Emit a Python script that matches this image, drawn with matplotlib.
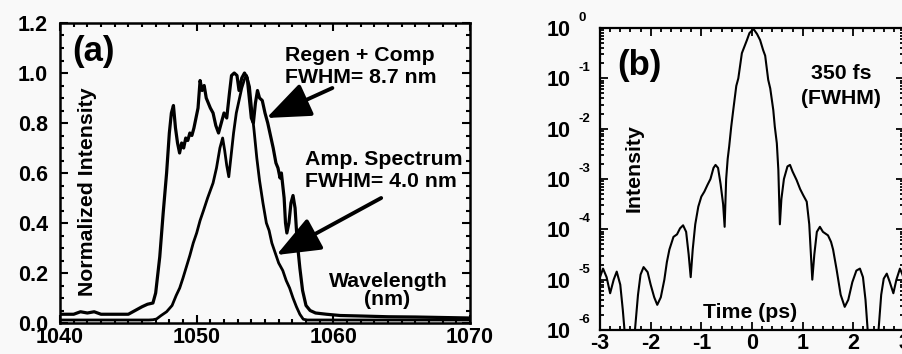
import numpy as np
import matplotlib
matplotlib.use("Agg")
import matplotlib.pyplot as plt
from matplotlib.ticker import MultipleLocator, FixedLocator, FixedFormatter, LogLocator, NullFormatter
import matplotlib.transforms as mtransforms

plt.rcParams['font.family'] = ['Liberation Sans', 'DejaVu Sans']
plt.rcParams['font.weight'] = 'bold'
plt.rcParams['axes.unicode_minus'] = False

# ---------------- data: panel (a) ----------------
regen_wl = [1040.0, 1041.0, 1041.5, 1042.0, 1042.5, 1043.0, 1044.0, 1045.0, 1045.5, 1046.0,
            1046.4, 1046.8, 1047.0, 1047.3, 1047.55, 1047.8, 1048.0, 1048.15, 1048.3, 1048.45,
            1048.6, 1048.75, 1048.9, 1049.05, 1049.2, 1049.35, 1049.5, 1049.65, 1049.8, 1049.95,
            1050.1, 1050.25, 1050.4, 1050.55, 1050.7, 1050.85, 1051.0, 1051.2, 1051.4, 1051.6,
            1051.8, 1052.0, 1052.2, 1052.4, 1052.55, 1052.75, 1052.95, 1053.1, 1053.3, 1053.5,
            1053.7, 1053.85, 1054.0, 1054.15, 1054.3, 1054.45, 1054.6, 1054.8, 1055.0, 1055.2,
            1055.4, 1055.6, 1055.8, 1055.95, 1056.1, 1056.2, 1056.3, 1056.4, 1056.5, 1056.6,
            1056.75, 1056.9, 1057.05, 1057.2, 1057.35, 1057.55, 1057.75, 1058.0, 1058.3, 1058.7,
            1059.5, 1060.5, 1062.0, 1064.0, 1066.0, 1068.0, 1070.0]
regen_int = [0.035, 0.035, 0.045, 0.040, 0.045, 0.035, 0.035, 0.035, 0.050, 0.065,
             0.075, 0.080, 0.120, 0.265, 0.440, 0.600, 0.760, 0.840, 0.870, 0.780,
             0.720, 0.680, 0.720, 0.700, 0.740, 0.730, 0.760, 0.750, 0.780, 0.820,
             0.860, 0.970, 0.930, 0.950, 0.900, 0.880, 0.860, 0.840, 0.790, 0.760,
             0.800, 0.840, 0.820, 0.920, 0.990, 1.000, 0.990, 0.930, 0.980, 1.000,
             0.980, 0.900, 0.820, 0.800, 0.880, 0.930, 0.900, 0.890, 0.840, 0.800,
             0.750, 0.700, 0.640, 0.620, 0.580, 0.600, 0.550, 0.500, 0.400, 0.360,
             0.400, 0.480, 0.510, 0.460, 0.330, 0.220, 0.130, 0.070, 0.050, 0.040,
             0.035, 0.030, 0.028, 0.025, 0.024, 0.022, 0.020]

amp_wl = [1040.0, 1044.0, 1046.5, 1046.8, 1047.06, 1047.4, 1047.8, 1048.2, 1048.5, 1048.76,
          1049.0, 1049.25, 1049.5, 1049.75, 1050.0, 1050.25, 1050.5, 1050.8, 1051.0, 1051.2,
          1051.45, 1051.7, 1051.9, 1052.05, 1052.2, 1052.35, 1052.5, 1052.7, 1052.9, 1053.1,
          1053.3, 1053.5, 1053.65, 1053.87, 1054.0, 1054.2, 1054.4, 1054.6, 1054.85, 1055.1,
          1055.3, 1055.5, 1055.75, 1056.0, 1056.3, 1056.55, 1056.8, 1057.05, 1057.3, 1057.55,
          1057.8, 1058.1, 1060.0, 1065.0, 1070.0]
amp_int = [0.012, 0.012, 0.012, 0.013, 0.016, 0.030, 0.045, 0.070, 0.110, 0.140,
           0.180, 0.225, 0.270, 0.320, 0.360, 0.410, 0.450, 0.500, 0.530, 0.560,
           0.620, 0.700, 0.740, 0.690, 0.630, 0.585, 0.660, 0.760, 0.840, 0.890,
           0.940, 0.975, 0.990, 0.945, 0.870, 0.770, 0.660, 0.570, 0.480, 0.400,
           0.370, 0.320, 0.280, 0.240, 0.210, 0.170, 0.140, 0.100, 0.065, 0.035,
           0.015, 0.012, 0.012, 0.012, 0.012]

# ---------------- data: panel (b) ----------------
time_ps = [-3.0, -2.94, -2.87, -2.8, -2.73, -2.67, -2.6, -2.55, -2.5, -2.45,
           -2.35, -2.31, -2.25, -2.2, -2.14, -2.06, -2.0, -1.93, -1.87, -1.8,
           -1.73, -1.68, -1.63, -1.55, -1.48, -1.42, -1.36, -1.3, -1.25, -1.21,
           -1.17, -1.12, -1.06, -1.0, -0.94, -0.88, -0.82, -0.76, -0.72, -0.67,
           -0.62, -0.57, -0.54, -0.51, -0.48, -0.45, -0.41, -0.37, -0.31, -0.27,
           -0.2, -0.1, -0.05, 0.03, 0.1, 0.16, 0.22, 0.26, 0.32, 0.36,
           0.42, 0.45, 0.49, 0.52, 0.55, 0.58, 0.63, 0.7, 0.75, 0.8,
           0.88, 0.95, 1.01, 1.08, 1.13, 1.19, 1.23, 1.28, 1.34, 1.4,
           1.5, 1.56, 1.6, 1.67, 1.75, 1.83, 1.9, 1.98, 2.06, 2.13,
           2.19, 2.24, 2.29, 2.35, 2.45, 2.49, 2.55, 2.6, 2.66, 2.72,
           2.79, 2.85, 2.92, 2.97, 3.0]
log_intensity = [-4.95, -4.78, -4.95, -5.27, -5.0, -4.84, -5.1, -5.6, -6.2, -6.5,
                 -6.5, -6.0, -5.3, -4.9, -4.75, -4.85, -5.1, -5.35, -5.5, -5.35,
                 -5.0, -4.65, -4.4, -4.15, -4.1, -3.98, -3.92, -4.05, -4.5, -4.95,
                 -4.4, -3.9, -3.55, -3.35, -3.25, -3.12, -3.0, -2.78, -2.72, -2.78,
                 -3.1, -3.5, -3.95, -3.0, -2.6, -2.35, -1.96, -1.63, -1.15, -1.0,
                 -0.5, -0.24, -0.1, -0.02, -0.12, -0.24, -0.44, -0.55, -1.03, -1.2,
                 -1.63, -1.96, -2.29, -2.82, -3.9, -3.4, -3.0, -2.75, -2.72, -2.85,
                 -3.02, -3.2, -3.32, -3.45, -3.9, -5.0, -4.5, -4.05, -3.95, -4.05,
                 -4.12, -4.25, -4.4, -4.8, -5.3, -5.54, -5.4, -5.05, -4.82, -4.78,
                 -4.95, -5.4, -6.1, -6.5, -6.5, -6.1, -5.3, -4.98, -4.88, -5.05,
                 -5.27, -5.0, -4.78, -4.9, -5.0]
intensity = 10.0 ** np.array(log_intensity)

wl_ticks = [1040, 1050, 1060, 1070]
norm_ticks = [0.0, 0.2, 0.4, 0.6, 0.8, 1.0, 1.2]
norm_labels = ['0.0', '0.2', '0.4', '0.6', '0.8', '1.0', '1.2']
time_ticks = [-3, -2, -1, 0, 1, 2, 3]
decade_exps = [0, -1, -2, -3, -4, -5, -6]

# ---------------- figure ----------------
W, H = 903, 354
fig = plt.figure(figsize=(W / 100, H / 100), dpi=100)
bg = '#f9f9f9'
fig.patch.set_facecolor(bg)

axa = fig.add_axes([60 / W, 1 - 323 / H, 410 / W, 300 / H])
axb = fig.add_axes([600 / W, 1 - 330 / H, 304 / W, 302 / H])
for ax in (axa, axb):
    ax.set_facecolor(bg)

# ---- panel (a) ----
axa.plot(regen_wl, regen_int, color='black', lw=2.3, solid_joinstyle='round')
axa.plot(amp_wl, amp_int, color='black', lw=2.0, solid_joinstyle='round')
axa.set_xlim(1040, 1070)
axa.set_ylim(0, 1.2)
axa.xaxis.set_major_locator(FixedLocator(wl_ticks))
axa.xaxis.set_minor_locator(MultipleLocator(1))
axa.yaxis.set_major_locator(FixedLocator(norm_ticks))
axa.yaxis.set_major_formatter(FixedFormatter(norm_labels))
axa.yaxis.set_minor_locator(MultipleLocator(0.05))
axa.tick_params(which='both', direction='in', top=True, right=True, width=1.5, colors='black')
axa.tick_params(which='major', length=5.5)
axa.tick_params(which='minor', length=3)
axa.tick_params(axis='x', which='major', labelsize=15.5, pad=2.8)
axa.tick_params(axis='y', which='major', labelsize=15.5, pad=8.5)
for s in axa.spines.values():
    s.set_linewidth(1.8)
for lab in axa.get_xticklabels() + axa.get_yticklabels():
    lab.set_fontweight('bold')

tf = dict(transform=axa.transAxes, fontweight='bold', color='black')
axa.text(0.030, 0.873, '(a)', fontsize=25, ha='left', va='baseline', **tf)
axa.text(0.549, 0.873, 'Regen + Comp', fontsize=15.3, ha='left', va='baseline', **tf)
axa.text(0.549, 0.801, 'FWHM= 8.7 nm', fontsize=15.3, ha='left', va='baseline', **tf)
axa.text(0.598, 0.527, 'Amp. Spectrum', fontsize=15.3, ha='left', va='baseline', **tf)
axa.text(0.598, 0.454, 'FWHM= 4.0 nm', fontsize=15.3, ha='left', va='baseline', **tf)
axa.text(0.800, 0.121, 'Wavelength', fontsize=15.3, ha='center', va='baseline', **tf)
axa.text(0.798, 0.060, '(nm)', fontsize=15.3, ha='center', va='baseline', **tf)
axa.text(0.066, 0.437, 'Normalized Intensity', fontsize=15.3, ha='center', va='center',
         rotation=90, **tf)

arrow_style = '-|>,head_length=0.9,head_width=0.36'
axa.annotate('', xy=(1055.11, 0.82), xytext=(1059.93, 0.94),
             arrowprops=dict(arrowstyle=arrow_style, mutation_scale=30, lw=2.8,
                             color='black', shrinkA=0, shrinkB=0))
axa.annotate('', xy=(1055.84, 0.272), xytext=(1063.5, 0.50),
             arrowprops=dict(arrowstyle=arrow_style, mutation_scale=30, lw=2.8,
                             color='black', shrinkA=0, shrinkB=0))

# ---- panel (b) ----
axb.plot(time_ps, intensity, color='black', lw=1.5, solid_joinstyle='round')
axb.set_yscale('log')
axb.set_xlim(-3, 3)
axb.set_ylim(1e-6, 1)
axb.xaxis.set_major_locator(FixedLocator(time_ticks))
axb.xaxis.set_minor_locator(MultipleLocator(0.2))
decade_vals = [10.0 ** k for k in decade_exps]
axb.yaxis.set_major_locator(FixedLocator(decade_vals))
axb.yaxis.set_major_formatter(FixedFormatter(['10'] * len(decade_vals)))
axb.yaxis.set_minor_locator(LogLocator(base=10, subs=np.arange(2, 10) * 1.0, numticks=20))
axb.yaxis.set_minor_formatter(NullFormatter())
axb.tick_params(which='both', direction='in', top=True, right=True, width=1.3, colors='black')
axb.tick_params(which='major', length=5.5)
axb.tick_params(which='minor', length=3)
axb.tick_params(axis='x', which='major', labelsize=15.5, pad=2.2)
axb.tick_params(axis='y', which='major', labelsize=15.5, pad=21.5)
for s in axb.spines.values():
    s.set_linewidth(1.6)
for lab in axb.get_xticklabels() + axb.get_yticklabels():
    lab.set_fontweight('bold')

blend = mtransforms.blended_transform_factory(axb.transAxes, axb.transData)
for k in decade_exps:
    axb.text(-0.072, 10.0 ** (k + 0.2), f'{k}', transform=blend, fontsize=9.5,
             fontweight='bold', ha='left', va='center', clip_on=False)

tb = dict(transform=axb.transAxes, fontweight='bold', color='black')
axb.text(0.056, 0.844, '(b)', fontsize=25, ha='left', va='baseline', **tb)
axb.text(0.793, 0.830, '350 fs', fontsize=15.3, ha='center', va='baseline', **tb)
axb.text(0.793, 0.750, '(FWHM)', fontsize=15.3, ha='center', va='baseline', **tb)
axb.text(0.112, 0.536, 'Intensity', fontsize=15.3, ha='center', va='center', rotation=90, **tb)
axb.text(0.493, 0.040, 'Time (ps)', fontsize=15.3, ha='center', va='baseline', **tb)

fig.savefig('out.png', dpi=100, facecolor=bg)
